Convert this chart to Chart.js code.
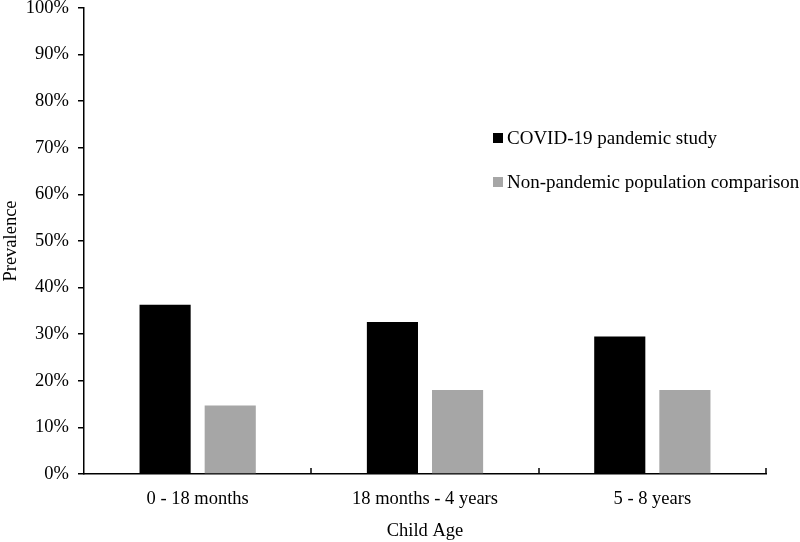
<!DOCTYPE html>
<html>
<head>
<meta charset="utf-8">
<script src="https://cdn.jsdelivr.net/npm/chart.js@4.4.1/dist/chart.umd.min.js"></script>
<style>
  html, body { margin: 0; padding: 0; background: #fff; }
  #wrap { width: 800px; height: 542px; }
</style>
</head>
<body>
<div id="wrap"><canvas id="prevalenceChart"></canvas></div>
<script>
// Datos
const ageGroups = ['0 - 18 months', '18 months - 4 years', '5 - 8 years'];
const covidStudy = [36.3, 32.6, 29.5];
const nonPandemic = [14.7, 18.0, 18.0];
const seriesNames = ['COVID-19 pandemic study', 'Non-pandemic population comparison'];
const yTicks = [0, 10, 20, 30, 40, 50, 60, 70, 80, 90, 100];

const serif = '"Liberation Serif", "Times New Roman", serif';

// leyenda dibujada dentro del area del grafico
const legendPlugin = {
    id: 'sideLegend',
    afterDraw(chart) {
        const ctx = chart.ctx;
        ctx.save();
        ctx.font = '19px ' + serif;
        ctx.textBaseline = 'middle';
        chart.data.datasets.forEach((ds, i) => {
            const y = 138 + i * 44;
            ctx.fillStyle = ds.backgroundColor;
            ctx.fillRect(493, y - 5, 10, 10);
            ctx.fillStyle = '#000';
            ctx.fillText(ds.label, 507, y + 1);
        });
        ctx.restore();
    }
};

// marcas pequenas entre categorias, hacia dentro
const innerTicks = {
    id: 'innerTicks',
    afterDraw(chart) {
        const x = chart.scales.x;
        const ctx = chart.ctx;
        const bottom = chart.chartArea.bottom;
        ctx.save();
        ctx.strokeStyle = '#000';
        ctx.lineWidth = 1.5;
        for (let i = 1; i <= ageGroups.length; i++) {
            const a = x.getPixelForValue(i - 1);
            const b = i < ageGroups.length ? x.getPixelForValue(i) : a + (a - x.getPixelForValue(i - 2));
            const px = Math.round((a + b) / 2);
            ctx.beginPath();
            ctx.moveTo(px, bottom);
            ctx.lineTo(px, bottom - 6);
            ctx.stroke();
        }
        ctx.restore();
    }
};

const ctx = document.getElementById('prevalenceChart').getContext('2d');
new Chart(ctx, {
    type: 'bar',
    data: {
        labels: ageGroups,
        datasets: [{
            label: seriesNames[0],
            data: covidStudy,
            backgroundColor: '#000000',
            categoryPercentage: 0.573,
            barPercentage: 0.785
        }, {
            label: seriesNames[1],
            data: nonPandemic,
            backgroundColor: '#a6a6a6',
            categoryPercentage: 0.573,
            barPercentage: 0.785
        }]
    },
    options: {
        responsive: true,
        maintainAspectRatio: false,
        animation: false,
        layout: { padding: { left: 0, right: 34, top: 8, bottom: 0 } },
        plugins: {
            legend: { display: false },
            tooltip: { enabled: false }
        },
        scales: {
            x: {
                grid: { display: false },
                border: { color: '#000', width: 1.5 },
                ticks: { color: '#000', font: { family: serif, size: 18.5 }, padding: 6, maxRotation: 0 },
                title: { display: true, text: 'Child Age', color: '#000', font: { family: serif, size: 18.5 }, padding: { top: 0, bottom: 0 } },
                afterFit: s => { s.height = 68; }
            },
            y: {
                min: 0,
                max: 100,
                afterBuildTicks: s => { s.ticks = yTicks.map(v => ({ value: v })); },
                grid: { drawOnChartArea: false, tickLength: 6, color: '#000', lineWidth: 1.5 },
                border: { color: '#000', width: 1.5 },
                ticks: { color: '#000', font: { family: serif, size: 18.5 }, padding: 9, callback: v => v + '%' },
                title: { display: true, text: 'Prevalence', color: '#000', font: { family: serif, size: 18.5 }, padding: 0 },
                afterFit: s => { s.width = 84; s.paddingTop = 0; s.paddingBottom = 0; }
            }
        }
    },
    plugins: [legendPlugin, innerTicks]
});
</script>
</body>
</html>
